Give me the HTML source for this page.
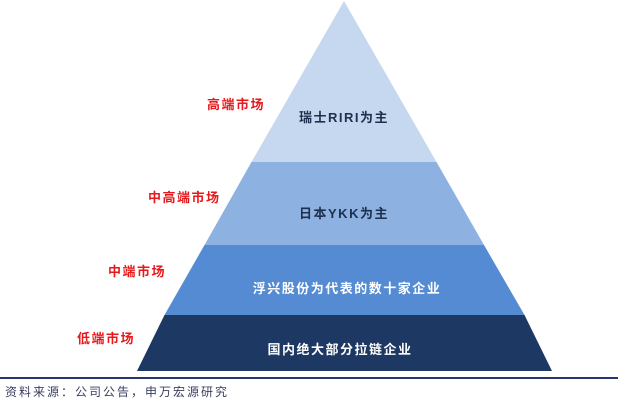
<!DOCTYPE html>
<html><head><meta charset="utf-8"><style>
body{margin:0;background:#fff;width:620px;height:401px;overflow:hidden}
svg text{font-family:"Liberation Sans","Noto Sans CJK SC",sans-serif;font-weight:bold;letter-spacing:1.5px}
</style></head><body>
<svg width="620" height="401" xmlns="http://www.w3.org/2000/svg">
<polygon points="344,1 436.5,162 251.5,162" fill="#c5d8ef"/>
<polygon points="251.5,162 436.5,162 484,245 204.5,245" fill="#8db1e0"/>
<polygon points="204.5,245 484,245 524.5,315 164.5,315" fill="#548bd2"/>
<polygon points="164.5,315 524.5,315 552,371 137,371" fill="#1d3862"/>
<g font-size="13" text-anchor="middle">
<text x="344" y="122" fill="#1d3050">瑞士RIRI为主</text>
<text x="344" y="218" fill="#1d3050">日本YKK为主</text>
<text x="347" y="293" fill="#fff">浮兴股份为代表的数十家企业</text>
<text x="340" y="354" fill="#fff">国内绝大部分拉链企业</text>
</g>
<g font-size="13" fill="#e8191c">
<text x="207" y="109">高端市场</text>
<text x="148" y="202">中高端市场</text>
<text x="108" y="276">中端市场</text>
<text x="77" y="343">低端市场</text>
</g>
<rect x="0" y="377" width="618" height="2" fill="#2a3570"/>
<text x="5" y="396" font-size="12" fill="#3a3f60" style="font-weight:normal;letter-spacing:2px">资料来源：公司公告，申万宏源研究</text>
</svg>
</body></html>
